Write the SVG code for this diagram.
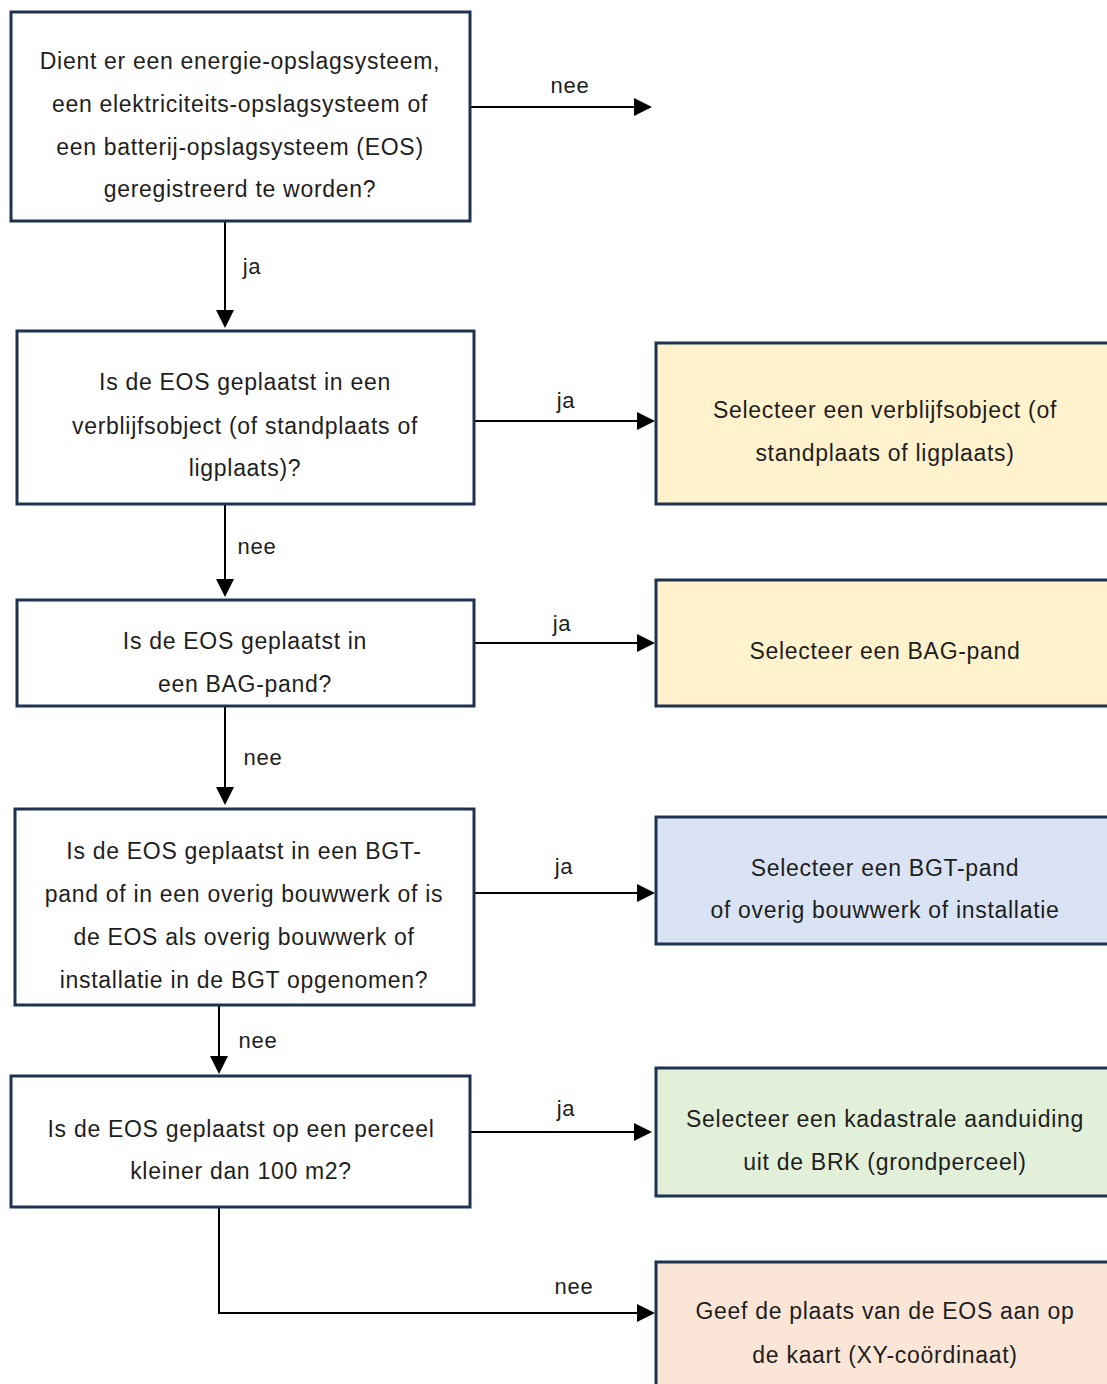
<svg xmlns="http://www.w3.org/2000/svg" width="1107" height="1384" viewBox="0 0 1107 1384">
<style>
.box{stroke:#1f3350;stroke-width:3}
.q{fill:#ffffff}
.y{fill:#fff2cc}
.b{fill:#dae3f3}
.g{fill:#e2f0d9}
.p{fill:#fbe5d6}
text{font-family:"Liberation Sans",Arial,sans-serif;font-size:23px;letter-spacing:0.7px;fill:#1e1e1e;text-anchor:middle}
.lbl{font-size:22px;letter-spacing:0.8px}
.c{stroke:#000;stroke-width:2;fill:none}
.ah{fill:#000}
</style>
<rect width="1107" height="1384" fill="#fff"/>
<g id="connectors">
<path class="c" d="M471,107 H636"/>
<path class="ah" d="M634,98 L652,107 L634,116 Z"/>
<path class="c" d="M225,222 V311"/>
<path class="ah" d="M216,310 L225,328 L234,310 Z"/>
<path class="c" d="M475,421 H639"/>
<path class="ah" d="M637,412 L655,421 L637,430 Z"/>
<path class="c" d="M225,505 V581"/>
<path class="ah" d="M216,579 L225,597 L234,579 Z"/>
<path class="c" d="M475,643 H639"/>
<path class="ah" d="M637,634 L655,643 L637,652 Z"/>
<path class="c" d="M225,707 V789"/>
<path class="ah" d="M216,787 L225,805 L234,787 Z"/>
<path class="c" d="M475,893 H639"/>
<path class="ah" d="M637,884 L655,893 L637,902 Z"/>
<path class="c" d="M219,1006 V1058"/>
<path class="ah" d="M210,1056 L219,1074 L228,1056 Z"/>
<path class="c" d="M471,1132 H636"/>
<path class="ah" d="M634,1123 L652,1132 L634,1141 Z"/>
<path class="c" d="M219,1208 V1313 H639"/>
<path class="ah" d="M637,1304 L655,1313 L637,1322 Z"/>
<text class="lbl" x="570" y="93">nee</text>
<text class="lbl" x="252" y="274">ja</text>
<text class="lbl" x="566" y="408">ja</text>
<text class="lbl" x="257" y="554">nee</text>
<text class="lbl" x="562" y="631">ja</text>
<text class="lbl" x="263" y="765">nee</text>
<text class="lbl" x="564" y="874">ja</text>
<text class="lbl" x="258" y="1048">nee</text>
<text class="lbl" x="566" y="1116">ja</text>
<text class="lbl" x="574" y="1294">nee</text>
</g>
<g id="q1">
<rect class="box q" x="11" y="12" width="459" height="209"/>
<text x="240" y="69">Dient er een energie-opslagsysteem,</text>
<text x="240" y="112">een elektriciteits-opslagsysteem of</text>
<text x="240" y="155">een batterij-opslagsysteem (EOS)</text>
<text x="240" y="197">geregistreerd te worden?</text>
</g>
<g id="q2">
<rect class="box q" x="17" y="331" width="457" height="173"/>
<text x="245" y="390">Is de EOS geplaatst in een</text>
<text x="245" y="434">verblijfsobject (of standplaats of</text>
<text x="245" y="476">ligplaats)?</text>
</g>
<g id="q3">
<rect class="box q" x="17" y="600" width="457" height="106"/>
<text x="245" y="649">Is de EOS geplaatst in</text>
<text x="245" y="692">een BAG-pand?</text>
</g>
<g id="q4">
<rect class="box q" x="15" y="809" width="459" height="196"/>
<text x="244" y="859">Is de EOS geplaatst in een BGT-</text>
<text x="244" y="902">pand of in een overig bouwwerk of is</text>
<text x="244" y="945">de EOS als overig bouwwerk of</text>
<text x="244" y="988">installatie in de BGT opgenomen?</text>
</g>
<g id="q5">
<rect class="box q" x="11" y="1076" width="459" height="131"/>
<text x="241" y="1137">Is de EOS geplaatst op een perceel</text>
<text x="241" y="1179">kleiner dan 100 m2?</text>
</g>
<g id="r1">
<rect class="box y" x="656" y="343" width="460" height="161"/>
<text x="885" y="418">Selecteer een verblijfsobject (of</text>
<text x="885" y="461">standplaats of ligplaats)</text>
</g>
<g id="r2">
<rect class="box y" x="656" y="580" width="460" height="126"/>
<text x="885" y="659">Selecteer een BAG-pand</text>
</g>
<g id="r3">
<rect class="box b" x="656" y="817" width="460" height="127"/>
<text x="885" y="876">Selecteer een BGT-pand</text>
<text x="885" y="918">of overig bouwwerk of installatie</text>
</g>
<g id="r4">
<rect class="box g" x="656" y="1068" width="460" height="128"/>
<text x="885" y="1127">Selecteer een kadastrale aanduiding</text>
<text x="885" y="1170">uit de BRK (grondperceel)</text>
</g>
<g id="r5">
<rect class="box p" x="656" y="1262" width="460" height="140"/>
<text x="885" y="1319">Geef de plaats van de EOS aan op</text>
<text x="885" y="1363">de kaart (XY-coördinaat)</text>
</g>
</svg>
